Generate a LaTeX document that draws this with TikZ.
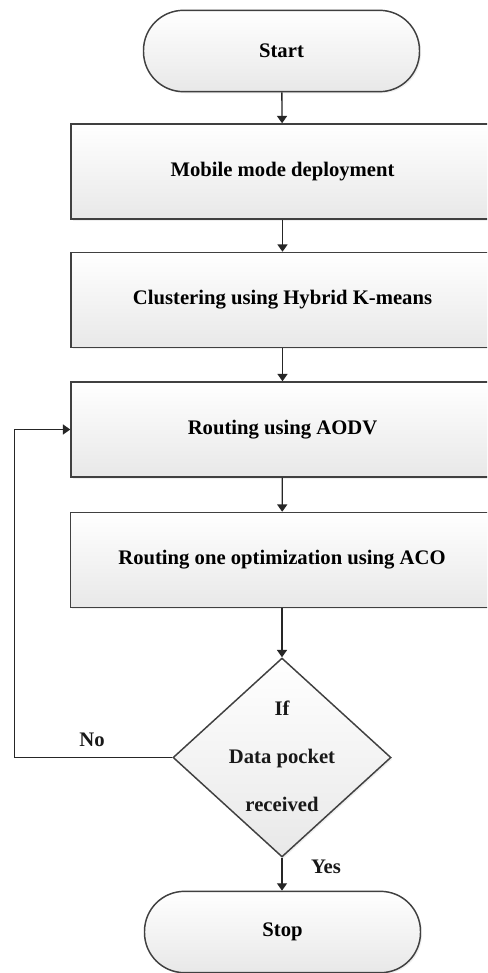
\documentclass[tikz,border=0pt]{standalone}
\usepackage{fontspec}
\setmainfont{Liberation Serif}
\usetikzlibrary{shapes.geometric,arrows.meta,shadows}
\begin{document}
\begin{tikzpicture}[x=0.75pt,y=-0.75pt,
  font=\fontsize{15.5}{18}\selectfont\bfseries,
  base/.style={draw=black!75, line width=1.1pt, top color=white, bottom color=black!9,
     drop shadow={opacity=0.12, shadow xshift=1.2pt, shadow yshift=-1.2pt}},
  term/.style={base, rounded corners=30pt, minimum width=207pt, minimum height=61pt, inner sep=0pt},
  procbox/.style={base, minimum width=317.25pt, minimum height=71.25pt, inner sep=0pt},
  dec/.style={base, diamond, minimum width=163.5pt, minimum height=149.25pt, inner sep=0pt},
  arr/.style={draw=black!85, line width=1pt, -{Triangle[length=5.5pt,width=7.5pt]}},
  lbl/.style={inner sep=0pt, text=black!90}]
\useasboundingbox (0,0) rectangle (487,973);
\clip (0,0) rectangle (487,973);
\fill[white] (0,0) rectangle (487,973);

\node[term] (start) at (281.5,51) {Start};
\node[procbox] (b1) at (282.5,171.5) {Mobile mode deployment};
\node[procbox] (b2) at (282.5,300) {Clustering using Hybrid K-means};
\node[procbox] (b3) at (282.5,429.5) {Routing using AODV};
\node[procbox] (b4) at (282,560) {Routing one optimization using ACO};
\node[dec] (dec) at (282,757.5) {};
\node[lbl, align=center, font=\fontsize{15.5}{36}\selectfont\bfseries] (dtext) at (282,756) {If\\Data pocket\\received};
\node[term] (stop) at (282.5,932) {Stop};

\draw[arr] (start) -- (b1);
\draw[arr] (b1) -- (b2);
\draw[arr] (b2) -- (b3);
\draw[arr] (b3) -- (b4);
\draw[arr] (b4.south -| dec.north) -- (dec.north);
\draw[arr] (dec.south) -- (stop.north -| dec.south);
\draw[arr] (dec.west) -- ++(-158,0) |- (b3.west);

\node[lbl] (no) at (92,740) {No};
\node[lbl] (yes) at (326,867) {Yes};
\end{tikzpicture}
\end{document}
